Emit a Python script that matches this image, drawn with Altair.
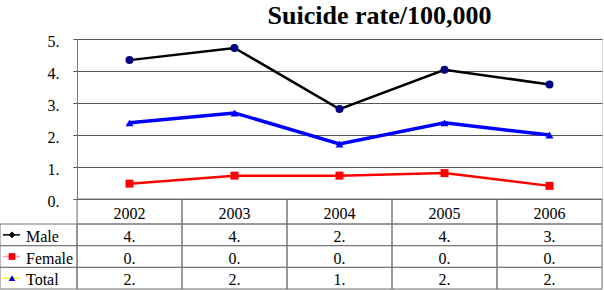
import altair as alt
import pandas as pd

years = ["2002", "2003", "2004", "2005", "2006"]
series = ["Male", "Female", "Total"]
male = [4.34, 4.72, 2.81, 4.04, 3.58]
female = [0.48, 0.73, 0.73, 0.81, 0.41]
total = [2.38, 2.69, 1.72, 2.38, 2.00]
y_ticks = [0, 1, 2, 3, 4, 5]
title_text = "Suicide rate/100,000"

line_colors = ["#000000", "#ff0000", "#0000ff"]
line_widths = [2.5, 2.5, 3.5]
marker_colors = ["#000080", "#ff0000", "#0000ff"]
marker_shapes = ["circle", "square", "triangle-up"]
legend_line_colors = ["#000000", "#ff99cc", "#ffff00"]
legend_marker_colors = ["#000000", "#ff0000", "#0000ff"]
legend_shapes = ["diamond", "square", "triangle-up"]

rows = []
for s, vals in zip(series, [male, female, total]):
    for yr, v in zip(years, vals):
        rows.append({"series": s, "year": yr, "value": v})
df = pd.DataFrame(rows)
hdr_df = pd.DataFrame({"year": years, "hdr": ["hdr"] * len(years)})
ser_df = pd.DataFrame({"series": series})

FONT = "Times New Roman, Liberation Serif, serif"
GRID = "#555555"
TABLE = "#777777"

x_scale = alt.Scale(type="band", domain=years, paddingInner=0, paddingOuter=0)
Xc = alt.X("year:N", scale=x_scale, axis=None, bandPosition=0.5)
Xr = alt.X("year:N", scale=x_scale, axis=None)

y_plot_scale = alt.Scale(domain=[0, 5], range=[160, 0], nice=False, zero=True)
y_axis = alt.Axis(values=y_ticks, labelExpr="floor(datum.value) + '.'", grid=True,
                  gridColor=GRID, tickColor=GRID, tickSize=4, domainColor=TABLE,
                  labelFont=FONT, labelFontSize=16, labelColor="#000000",
                  labelPadding=14, labelOffset=2, title=None)
Yp = alt.Y("value:Q", scale=y_plot_scale, axis=y_axis)

hdr_scale = alt.Scale(type="band", domain=["hdr"], range=[160, 185], paddingInner=0, paddingOuter=0)
row_scale = alt.Scale(type="band", domain=series, range=[185, 250], paddingInner=0, paddingOuter=0)

plot_layers = []
for s, c, w in zip(series, line_colors, line_widths):
    plot_layers.append(
        alt.Chart(df).transform_filter(alt.datum.series == s)
        .mark_line(color=c, strokeWidth=w).encode(x=Xc, y=Yp)
    )
points = alt.Chart(df).mark_point(filled=True, size=64, opacity=1).encode(
    x=Xc, y=Yp,
    color=alt.Color("series:N", scale=alt.Scale(domain=series, range=marker_colors), legend=None),
    shape=alt.Shape("series:N", scale=alt.Scale(domain=series, range=marker_shapes), legend=None),
)
plot = alt.layer(*plot_layers, points)

hdr_cells = alt.Chart(hdr_df).mark_rect(fillOpacity=0, stroke=TABLE, strokeWidth=1).encode(
    x=Xr, y=alt.Y("hdr:N", scale=hdr_scale, axis=None))
hdr_text = alt.Chart(hdr_df).mark_text(font=FONT, fontSize=16, baseline="middle", dy=2).encode(
    x=Xc, y=alt.Y("hdr:N", scale=hdr_scale, axis=None, bandPosition=0.5), text="year:N")

cells = alt.Chart(df).mark_rect(fillOpacity=0, stroke=TABLE, strokeWidth=1).encode(
    x=Xr, y=alt.Y("series:N", scale=row_scale, axis=None))
cell_text = alt.Chart(df).transform_calculate(label="floor(datum.value) + '.'").mark_text(
    font=FONT, fontSize=16, baseline="middle", dy=2).encode(
    x=Xc, y=alt.Y("series:N", scale=row_scale, axis=None, bandPosition=0.5), text="label:N")

Yrc = alt.Y("series:N", scale=row_scale, axis=None, bandPosition=0.5)
left_cells = alt.Chart(ser_df).mark_rect(fillOpacity=0, stroke=TABLE, strokeWidth=1).encode(
    x=alt.value(-77), x2=alt.value(0), y=alt.Y("series:N", scale=row_scale, axis=None))
left_text = alt.Chart(ser_df).mark_text(font=FONT, fontSize=16, align="left", baseline="middle", dy=2).encode(
    x=alt.value(-51), y=Yrc, text="series:N")
key_lines = alt.Chart(ser_df).mark_rule(strokeWidth=1.5).encode(
    x=alt.value(-74), x2=alt.value(-57), y=Yrc,
    color=alt.Color("series:N", scale=alt.Scale(domain=series, range=legend_line_colors), legend=None))
key_marks = alt.Chart(ser_df).mark_point(filled=True, size=45, opacity=1).encode(
    x=alt.value(-65), y=Yrc,
    color=alt.Color("series:N", scale=alt.Scale(domain=series, range=legend_marker_colors), legend=None),
    shape=alt.Shape("series:N", scale=alt.Scale(domain=series, range=legend_shapes), legend=None))

chart = alt.layer(
    plot, hdr_cells, hdr_text, cells, cell_text, left_cells, key_lines, key_marks, left_text
).resolve_scale(
    y="independent", color="independent", shape="independent"
).properties(
    width=525, height=250,
    title=alt.TitleParams(title_text, font=FONT, fontSize=26, fontWeight="bold", color="#000000",
                          anchor="middle", dx=40, dy=17, frame="group", baseline="alphabetic", offset=0),
    autosize=alt.AutoSizeParams(type="none"),
    padding={"left": 77, "top": 39, "right": 2, "bottom": 1},
).configure_view(stroke="#999999", strokeWidth=1).configure(font=FONT)

chart.save("out.html", embed_options={"renderer": "svg", "actions": False})
